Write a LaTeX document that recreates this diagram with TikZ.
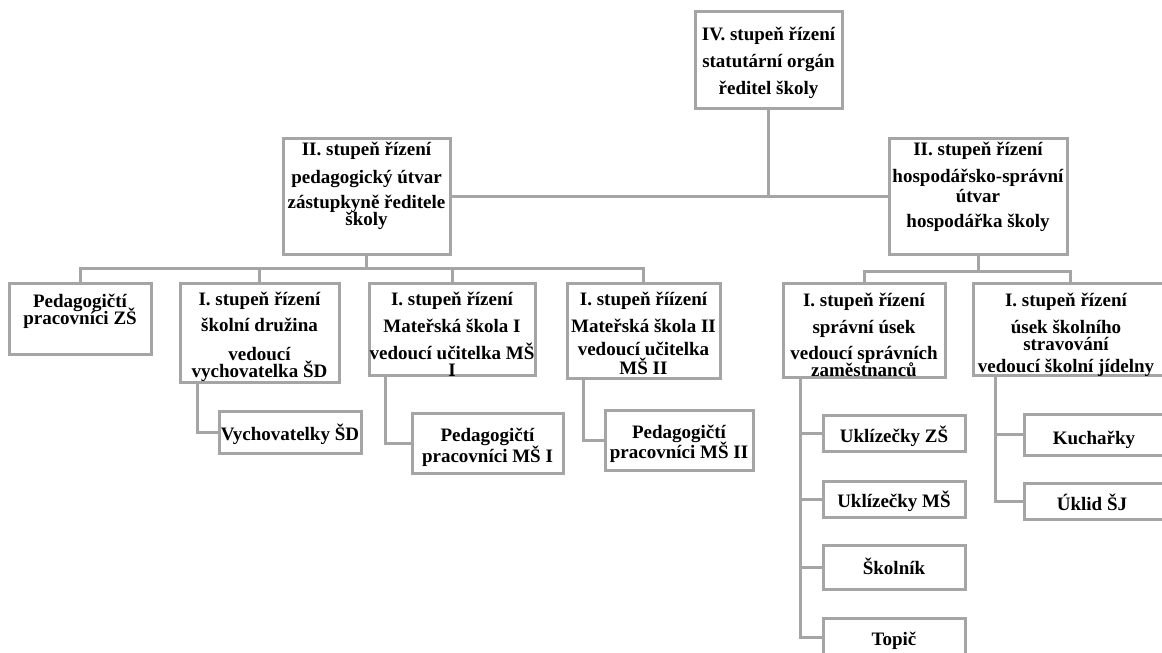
\documentclass[tikz,border=0pt]{standalone}
\usepackage{fontspec}
\newfontfamily\tnr{Liberation Serif}
\definecolor{lc}{RGB}{165,165,165}
\tikzset{
  orgbox/.style={draw=lc, line width=3pt, fill=white, inner sep=0pt},
  conn/.style={draw=lc, line width=3pt},
  txt/.style={anchor=base, inner sep=0pt, yshift=-2pt, font=\tnr\bfseries\fontsize{19}{17}\selectfont}
}
\newcommand\lines[1]{\parbox[t]{260pt}{\lineskiplimit=-100pt\lineskip=0pt\centering #1}}
\begin{document}
\begin{tikzpicture}[x=1pt,y=-1pt]
\useasboundingbox (0,0) rectangle (1162,653);
\clip (0,0) rectangle (1162,653);
% boxes
\node[orgbox, minimum width=147pt, minimum height=97pt] (top) at (768.5,59.5) {};
\node[orgbox, minimum width=167pt, minimum height=116pt] (ped) at (366.5,196) {};
\node[orgbox, minimum width=178pt, minimum height=116pt] (hos) at (978,196) {};
\node[orgbox, minimum width=142pt, minimum height=71pt] (zs) at (80,318.5) {};
\node[orgbox, minimum width=159pt, minimum height=99pt] (sd) at (259.5,332.5) {};
\node[orgbox, minimum width=166pt, minimum height=92pt] (ms1) at (452,329) {};
\node[orgbox, minimum width=153pt, minimum height=95pt] (ms2) at (643.5,330.5) {};
\node[orgbox, minimum width=162pt, minimum height=94pt] (spr) at (864,330) {};
\node[orgbox, minimum width=194pt, minimum height=92pt] (str) at (1070,329) {};
\node[orgbox, minimum width=142pt, minimum height=42pt] (vsd) at (290,432) {};
\node[orgbox, minimum width=151pt, minimum height=60pt] (pms1) at (487.5,443) {};
\node[orgbox, minimum width=148pt, minimum height=60pt] (pms2) at (679,440) {};
\node[orgbox, minimum width=142pt, minimum height=36pt] (uzs) at (894,433) {};
\node[orgbox, minimum width=142pt, minimum height=36pt] (ums) at (894,499) {};
\node[orgbox, minimum width=142pt, minimum height=44pt] (skol) at (894,567) {};
\node[orgbox, minimum width=142pt, minimum height=38pt] (topic) at (894,637) {};
\node[orgbox, minimum width=142pt, minimum height=41pt] (kuch) at (1095,434.5) {};
\node[orgbox, minimum width=142pt, minimum height=36pt] (uklid) at (1095,501) {};
% junctions
\coordinate (j1) at (366.5,268);
\coordinate (j2) at (978,271);
\coordinate (s1) at ([xshift=-64pt]spr.south);
\coordinate (s2) at ([xshift=-75pt]str.south);
% connectors
\draw[conn] (ped.east) -- (hos.west);
\draw[conn] (top.south) -- (top.south |- ped.east);
\draw[conn] (ped.south) -- (j1);
\draw[conn] (zs.north) |- (j1) -| (ms2.north);
\draw[conn] (sd.north) -- (sd.north |- j1);
\draw[conn] (ms1.north) -- (ms1.north |- j1);
\draw[conn] (hos.south) -- (j2);
\draw[conn] (spr.north) |- (j2) -| (str.north);
\draw[conn] ([xshift=-62.5pt]sd.south) |- (vsd.west);
\draw[conn] ([xshift=-67pt]ms1.south) |- (pms1.west);
\draw[conn] ([xshift=-60.5pt]ms2.south) |- (pms2.west);
\draw[conn] (s1) |- (topic.west);
\draw[conn] (uzs.west) -- (uzs.west -| s1);
\draw[conn] (ums.west) -- (ums.west -| s1);
\draw[conn] (skol.west) -- (skol.west -| s1);
\draw[conn] (s2) |- (uklid.west);
\draw[conn] (kuch.west) -- (kuch.west -| s2);
% texts
\node[txt] (ttop) at (768.5,38) {\lines{IV. stupeň řízení\\[10pt]statutární orgán\\[10pt]ředitel školy}};
\node[txt] (tped) at (366.5,153) {\lines{II. stupeň řízení\\[11pt]pedagogický útvar\\[8pt]zástupkyně ředitele\\školy}};
\node[txt] (thos) at (978,153) {\lines{II. stupeň řízení\\[10pt]hospodářsko-správní\\[3pt]útvar\\[8pt]hospodářka školy}};
\node[txt] (tzs) at (80,305) {\lines{Pedagogičtí\\pracovníci ZŠ}};
\node[txt] (tsd) at (259.5,303) {\lines{I. stupeň řízení\\[9pt]školní družina\\[12pt]vedoucí\\vychovatelka ŠD}};
\node[txt] (tms1) at (452,303) {\lines{I. stupeň řízení\\[10pt]Mateřská škola I\\[10pt]vedoucí učitelka MŠ\\I}};
\node[txt] (tms2) at (643.5,303) {\lines{I. stupeň říízení\\[10pt]Mateřská škola II\\[6pt]vedoucí učitelka\\[2pt]MŠ II}};
\node[txt] (tspr) at (864,304) {\lines{I. stupeň řízení\\[10pt]správní úsek\\[9pt]vedoucí správních\\zaměstnanců}};
\node[txt] (tstr) at (1066,304) {\lines{I. stupeň řízení\\[10pt]úsek školního\\stravování\\[5pt]vedoucí školní jídelny}};
\node[txt] (tvsd) at (290,438) {\lines{Vychovatelky ŠD}};
\node[txt] (tpms1) at (487.5,439) {\lines{Pedagogičtí\\[4pt]pracovníci MŠ I}};
\node[txt] (tpms2) at (679,436) {\lines{Pedagogičtí\\[3pt]pracovníci MŠ II}};
\node[txt] (tuzs) at (894,440) {\lines{Uklízečky ZŠ}};
\node[txt] (tums) at (894,505) {\lines{Uklízečky MŠ}};
\node[txt] (tskol) at (894,572) {\lines{Školník}};
\node[txt] (ttopic) at (894,643) {\lines{Topič}};
\node[txt] (tkuch) at (1094,442) {\lines{Kuchařky}};
\node[txt] (tuklid) at (1092,508) {\lines{Úklid ŠJ}};
\end{tikzpicture}
\end{document}
